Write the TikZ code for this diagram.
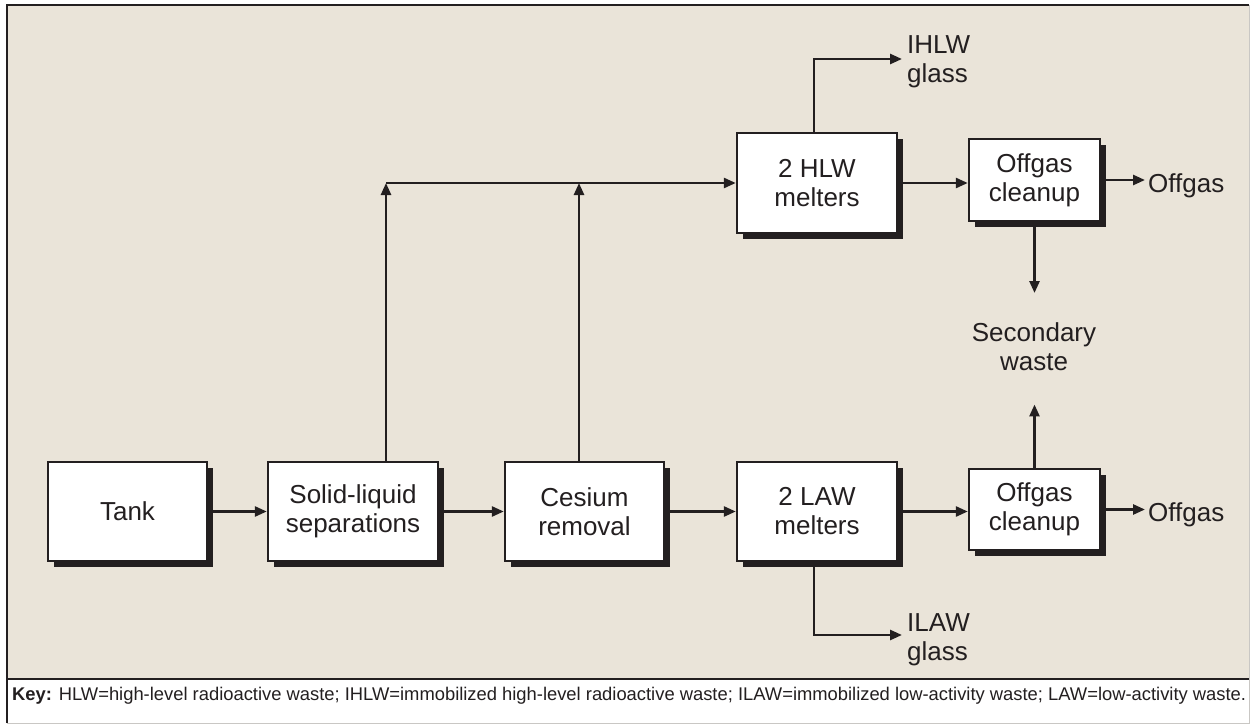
\documentclass[tikz,border=0pt]{standalone}
\usepackage{fontspec}
\usepackage{graphicx}
\setmainfont{Liberation Sans}
\usetikzlibrary{arrows.meta,shadows}
\definecolor{ink}{HTML}{231F20}
\definecolor{paper}{HTML}{EAE4D9}
\definecolor{rim}{HTML}{C9C7C4}
\begin{document}
\begin{tikzpicture}[x=1pt,y=-1pt,
  proc/.style={draw=ink, line width=2.4pt, fill=white, align=center, inner sep=0pt,
    text=ink, font=\fontsize{26}{29}\selectfont,
    drop shadow={shadow xshift=6pt, shadow yshift=-6pt, fill=ink, opacity=1}},
  flow/.style={draw=ink, line width=2.6pt, -{Triangle[length=12pt,width=10pt]}},
  lbl/.style={inner sep=0pt, text=ink, align=left, font=\fontsize{26}{29}\selectfont}]
\useasboundingbox (0,0) rectangle (1250,725);

% panel and key strip
\fill[paper] (7,5) rectangle (1249,679);
\fill[white] (7,679) rectangle (1249,723);
\draw[rim, line width=1pt] (1249,5) -- (1249,723) -- (7,723);
\draw[ink, line width=2.8pt] (7,723) -- (7,5) -- (1249,5);
\draw[ink, line width=2.6pt] (7,679) -- (1249,679);

% process boxes
\node[proc, minimum width=159pt, minimum height=99pt] (tank) at (127.5,511.5) {Tank};
\node[proc, minimum width=170pt, minimum height=99pt] (sol)  at (353,511.5) {Solid-liquid\\separations};
\node[proc, minimum width=159pt, minimum height=99pt] (ces)  at (584.5,511.5) {Cesium\\removal};
\node[proc, minimum width=160pt, minimum height=99pt] (law)  at (817,511.5) {2 LAW\\melters};
\node[proc, minimum width=160pt, minimum height=100pt] (hlw) at (817,183) {2 HLW\\melters};
\node[proc, minimum width=131pt, minimum height=82pt] (offT) at (1034.5,180) {Offgas\\cleanup};
\node[proc, minimum width=131pt, minimum height=81pt] (offB) at (1034.5,509.5) {Offgas\\cleanup};

% output labels
\node[lbl, anchor=north west] (ihlw) at (907,35) {IHLW\\glass};
\node[lbl, anchor=north west] (ilaw) at (907,613) {ILAW\\glass};
\node[lbl, anchor=base west] (ogT) at (1148,192) {Offgas};
\node[lbl, anchor=base west] (ogB) at (1148,521) {Offgas};
\node[lbl, align=center, anchor=north] (sec) at (1034,322) {Secondary\\waste};

% main line
\draw[flow] (tank) -- (sol);
\draw[flow] (sol) -- (ces);
\draw[flow] (ces) -- (law);
\draw[flow] (law.east) -- (law.east -| offB.west);
\draw[flow, shorten >=3pt] (offB.east) -- (offB.east -| ogB.west);

% high-level branch
\coordinate (jA) at (386,183);
\coordinate (jB) at (579,183);
\draw[flow] (sol.north -| jA) -- (jA);
\draw[flow] (ces.north -| jB) -- (jB);
\draw[flow] (jA) -- (jA -| hlw.west);
\draw[flow] (hlw.east) -- (hlw.east -| offT.west);
\draw[flow, shorten >=3pt] (offT.east) -- (offT.east -| ogT.west);

% glass outputs
\coordinate (iT) at (814,59);
\coordinate (iB) at (814,635);
\draw[flow, shorten >=5pt] (hlw.north -| iT) -- (iT) -- (iT -| ihlw.west);
\draw[flow, shorten >=5pt] (law.south -| iB) -- (iB) -- (iB -| ilaw.west);

% secondary waste
\draw[flow, shorten >=29pt] (offT.south) -- (offT.south |- sec.north);
\draw[flow, shorten >=34pt] (offB.north) -- (offB.north |- sec.south);

% key
\node[anchor=base west, inner sep=0pt, text=ink] (key) at (12,700.5)
  {\resizebox{1234pt}{!}{\fontsize{16}{19}\selectfont\textbf{Key:} HLW=high-level radioactive waste; IHLW=immobilized high-level radioactive waste; ILAW=immobilized low-activity waste; LAW=low-activity waste.}};
\end{tikzpicture}
\end{document}
